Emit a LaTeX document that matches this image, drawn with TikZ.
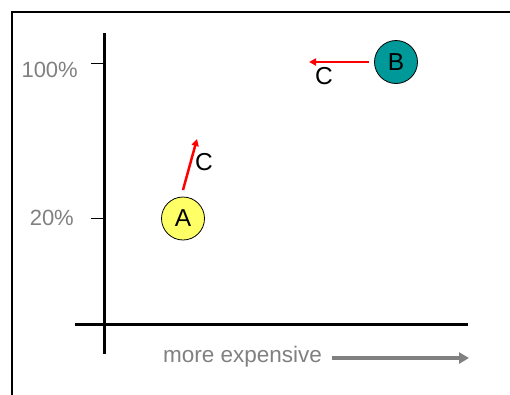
\documentclass[tikz,border=0pt]{standalone}
\usepackage{fontspec}
\setmainfont{Liberation Sans}
\usetikzlibrary{arrows.meta}
\definecolor{axgray}{RGB}{128,128,128}
\definecolor{ayellow}{RGB}{255,255,102}
\definecolor{bteal}{RGB}{0,153,153}
\begin{document}
\begin{tikzpicture}[x=1pt,y=-1pt,
  axis/.style={line width=3pt},
  tick/.style={line width=1pt},
  glabel/.style={text=axgray,font=\fontsize{22}{25}\selectfont,inner sep=0pt},
  bubble/.style={circle,draw=black,line width=0.8pt,minimum size=43pt,inner sep=0pt,font=\fontsize{24.5}{27}\selectfont},
  move/.style={red,line width=2.5pt,-{Triangle[length=7pt,width=7pt]}},
  clabel/.style={font=\fontsize{24.5}{27}\selectfont,inner sep=0pt}]
\useasboundingbox (0,0) rectangle (510,394);
% frame
\draw[line width=2pt] (12,396) -- (12,12) -- (512,12);
% axes
\coordinate (yb) at (104,354);
\coordinate (yt) at (104,33);
\coordinate (xl) at (75,324);
\coordinate (xr) at (468,324);
\draw[axis] (yb) -- (yt);
\draw[axis] (xl) -- (xr);
% ticks
\coordinate (t1a) at (91,63); \coordinate (t1b) at (104,63);
\coordinate (t2a) at (91,218); \coordinate (t2b) at (104,218);
\draw[tick] (t1a) -- (t1b);
\draw[tick] (t2a) -- (t2b);
\node[glabel,anchor=east] (l100) at (78,70) {100\%};
\node[glabel,anchor=east] (l20) at (74,218) {20\%};
% bubbles
\node[bubble,fill=ayellow] (A) at (183,218.5) {A};
\node[bubble,fill=bteal] (B) at (396,62) {B};
% movements
\coordinate (As) at (183,190);
\coordinate (Ae) at (197,139);
\draw[move] (As) -- (Ae);
\node[clabel] (Ac) at (204,162) {C};
\coordinate (Bs) at (369,62);
\coordinate (Be) at (309,62);
\draw[move] (Bs) -- (Be);
\node[clabel] (Bc) at (324,76) {C};
% x label
\node[glabel,font=\fontsize{22.5}{25}\selectfont] (me) at (242.5,357) {more expensive};
\coordinate (gs) at (332,358);
\coordinate (ge) at (469,358);
\draw[axgray,line width=4pt,-{Triangle[length=10pt,width=11pt]}] (gs) -- (ge);
\end{tikzpicture}
\end{document}
